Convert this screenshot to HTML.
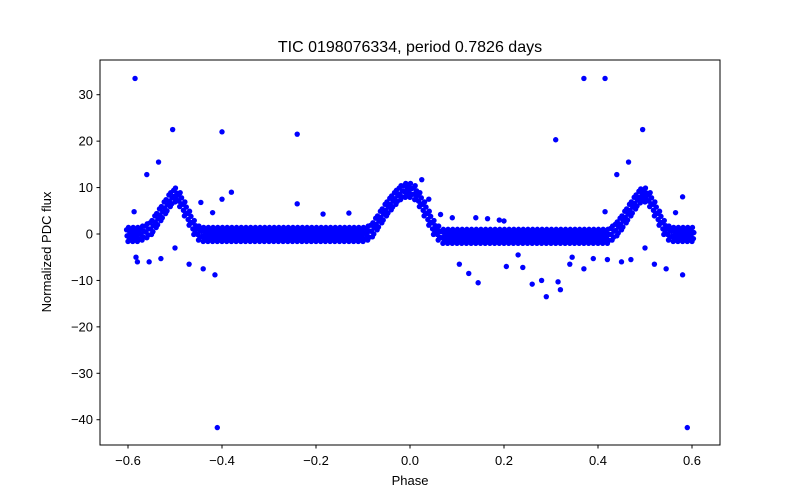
<!DOCTYPE html>
<html><head><meta charset="utf-8">
<style>
html,body{margin:0;padding:0;background:#fff;}
svg{display:block;font-family:"Liberation Sans","DejaVu Sans",sans-serif;}
</style></head>
<body>
<svg id="chart" width="800" height="500">
  <rect x="0" y="0" width="800" height="500" fill="#fff"/>
  <text x="410" y="52" text-anchor="middle" font-size="16">TIC 0198076334, period 0.7826 days</text>
  <g id="points"></g>
  <rect x="100" y="60" width="620" height="385" fill="none" stroke="#000" stroke-width="1"/>
  <g id="xticks"></g>
  <g id="yticks"></g>
  <text x="410" y="485" text-anchor="middle" font-size="13">Phase</text>
  <text x="0" y="0" transform="translate(51,252) rotate(-90)" text-anchor="middle" font-size="13">Normalized PDC flux</text>
</svg>
<script>
const xTicks = [-0.6, -0.4, -0.2, 0.0, 0.2, 0.4, 0.6];
const xTickLabels = ["\u22120.6", "\u22120.4", "\u22120.2", "0.0", "0.2", "0.4", "0.6"];
const yTicks = [30, 20, 10, 0, -10, -20, -30, -40];
const yTickLabels = ["30", "20", "10", "0", "\u221210", "\u221220", "\u221230", "\u221240"];
const curvePhase = [-0.60,-0.59,-0.58,-0.57,-0.56,-0.55,-0.54,-0.53,-0.52,-0.51,-0.50,-0.49,-0.48,-0.47,-0.46,-0.45,
-0.44,-0.43,-0.42,-0.41,-0.40,-0.39,-0.38,-0.37,-0.36,-0.35,-0.34,-0.33,-0.32,-0.31,-0.30,-0.29,-0.28,-0.27,-0.26,-0.25,-0.24,-0.23,-0.22,-0.21,-0.20,-0.19,-0.18,-0.17,-0.16,-0.15,-0.14,-0.13,-0.12,-0.11,-0.10,
-0.09,-0.08,-0.07,-0.06,-0.05,-0.04,-0.03,-0.02,-0.01,0.00,0.01,0.02,0.03,0.04,0.05,0.06,
0.07,0.08,0.09,0.10,0.11,0.12,0.13,0.14,0.15,0.16,0.17,0.18,0.19,0.20,0.21,0.22,0.23,0.24,0.25,0.26,0.27,0.28,0.29,0.30,0.31,0.32,0.33,0.34,0.35,0.36,0.37,0.38,0.39,0.40,0.41,0.42,
0.43,0.44,0.45,0.46,0.47,0.48,0.49,0.50,0.51,0.52,0.53,0.54,0.55,0.56,0.57,0.58,0.59,0.60];
const curveFlux = [0,0,0,0.3,0.8,1.5,3,4.5,6,7.5,8.5,7.5,5.5,3.5,1.5,0.3,
0,0,0,0,0,0,0,0,0,0,0,0,0,0,0,0,0,0,0,0,0,0,0,0,0,0,0,0,0,0,0,0,0,0,0,
0.3,1,2.5,4,5.5,6.8,8,9,9.5,9.5,9,7.5,5.5,3.5,1.5,0.3,
-0.4,-0.4,-0.4,-0.4,-0.4,-0.4,-0.4,-0.4,-0.4,-0.4,-0.4,-0.4,-0.4,-0.4,-0.4,-0.4,-0.4,-0.4,-0.4,-0.4,-0.4,-0.4,-0.4,-0.4,-0.4,-0.4,-0.4,-0.4,-0.4,-0.4,-0.4,-0.4,-0.4,-0.4,-0.4,-0.4,
0.3,1.2,2.5,4,5.5,7,8.3,8.5,7.5,5.5,3.5,1.5,0.3,0,0,0,0,0];
const outlierPhase = [-0.585,-0.587,-0.583,-0.58,-0.56,-0.555,-0.535,-0.53,-0.505,-0.5,-0.47,-0.445,-0.44,-0.42,-0.415,-0.41,-0.4,-0.4,-0.38,-0.24,-0.24,-0.185,-0.13,0.025,0.04,0.065,0.09,0.105,0.125,0.14,0.145,0.165,0.19,0.2,0.205,0.23,0.24,0.26,0.28,0.29,0.31,0.315,0.32,0.34,0.345,0.37,0.37,0.39,0.415,0.415,0.42,0.44,0.45,0.465,0.47,0.495,0.5,0.52,0.545,0.565,0.58,0.59,0.58];
const outlierFlux = [33.5,4.8,-5,-6,12.8,-6,15.5,-5.3,22.5,-3,-6.5,6.8,-7.5,4.6,-8.8,-41.7,22,7.5,9,21.5,6.5,4.3,4.5,11.7,7.5,4.2,3.5,-6.5,-8.5,3.5,-10.5,3.3,3,2.8,-7,-4.5,-7.2,-10.8,-10,-13.5,20.3,-10.3,-12,-6.5,-5,33.5,-7.5,-5.3,33.5,4.8,-5.5,12.8,-6,15.5,-5.5,22.5,-3,-6.5,-7.5,4.6,-8.8,-41.7,8];
const bandSpread = [-1.6, -1, -0.4, 0.3, 0.9, 1.4];
const bandShift = [0, 0.003, -0.002, 0.004, -0.003, 0.001];

const NS = "http://www.w3.org/2000/svg";
function xScale(p){ return 410 + 470 * p; }
function yScale(v){ return 234 - 4.643 * v; }

const pts = document.getElementById('points');
function dot(p, v){
  const c = document.createElementNS(NS, 'circle');
  c.setAttribute('cx', xScale(p).toFixed(2));
  c.setAttribute('cy', yScale(v).toFixed(2));
  c.setAttribute('r', 2.7);
  c.setAttribute('fill', '#0000ff');
  
  
  pts.appendChild(c);
}
for (let i = 0; i < curvePhase.length; i++) {
  for (let k = 0; k < bandSpread.length; k++) dot(curvePhase[i] + bandShift[k], curveFlux[i] + bandSpread[k]);
}
for (let i = 0; i < outlierPhase.length; i++) dot(outlierPhase[i], outlierFlux[i]);

const xg = document.getElementById('xticks');
xTicks.forEach((t, i) => {
  const x = xScale(t);
  const l = document.createElementNS(NS, 'line');
  l.setAttribute('x1', x); l.setAttribute('x2', x); l.setAttribute('y1', 445); l.setAttribute('y2', 448.5);
  l.setAttribute('stroke', '#000');
  
  
  xg.appendChild(l);
  const tx = document.createElementNS(NS, 'text');
  tx.setAttribute('x', x); tx.setAttribute('y', 465); tx.setAttribute('text-anchor', 'middle'); tx.setAttribute('font-size', '13');
  tx.textContent = xTickLabels[i];
  
  
  xg.appendChild(tx);
});
const yg = document.getElementById('yticks');
yTicks.forEach((t, i) => {
  const y = yScale(t);
  const l = document.createElementNS(NS, 'line');
  l.setAttribute('x1', 96.5); l.setAttribute('x2', 100); l.setAttribute('y1', y); l.setAttribute('y2', y);
  l.setAttribute('stroke', '#000');
  
  
  yg.appendChild(l);
  const tx = document.createElementNS(NS, 'text');
  tx.setAttribute('x', 93); tx.setAttribute('y', y + 4.5); tx.setAttribute('text-anchor', 'end'); tx.setAttribute('font-size', '13');
  tx.textContent = yTickLabels[i];
  
  
  yg.appendChild(tx);
});
</script>
</body></html>
